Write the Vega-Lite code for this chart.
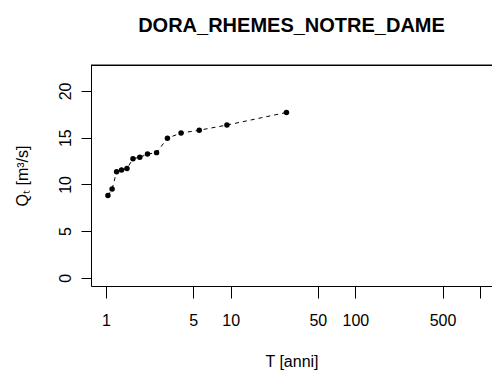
{
  "$schema": "https://vega.github.io/schema/vega-lite/v6.json",
  "width": 401,
  "height": 221,
  "autosize": {"type": "none"},
  "padding": {"left": 91, "top": 65, "right": 0, "bottom": 86},
  "background": "white",
  "config": {
    "view": {"stroke": null},
    "font": "Liberation Sans",
    "axis": {"grid": false, "domainColor": "black", "tickColor": "black", "labelColor": "black", "titleColor": "black", "labelFont": "Liberation Sans", "titleFont": "Liberation Sans", "labelFontSize": 16, "titleFontSize": 16, "titleFontWeight": "normal", "domainWidth": 1, "tickWidth": 1}
  },
  "title": {"text": "DORA_RHEMES_NOTRE_DAME", "fontSize": 20, "fontWeight": "bold", "font": "Liberation Sans", "color": "black", "anchor": "middle", "offset": 9, "baseline": "bottom"},
  "data": {"values": [
    {"T": 1.037, "Q": 8.8},
    {"T": 1.12, "Q": 9.5},
    {"T": 1.217, "Q": 11.35},
    {"T": 1.333, "Q": 11.55},
    {"T": 1.474, "Q": 11.7},
    {"T": 1.647, "Q": 12.75},
    {"T": 1.867, "Q": 12.9},
    {"T": 2.154, "Q": 13.25},
    {"T": 2.545, "Q": 13.4},
    {"T": 3.111, "Q": 14.95},
    {"T": 4.0, "Q": 15.5},
    {"T": 5.6, "Q": 15.8},
    {"T": 9.333, "Q": 16.35},
    {"T": 28.0, "Q": 17.7}
  ]},
  "layer": [
    {
      "mark": {"type": "line", "color": "black", "strokeWidth": 1, "strokeDash": [4, 4]},
      "encoding": {
        "x": {"field": "T", "type": "quantitative", "scale": {"type": "log", "domain": [0.7586, 1246], "nice": false, "zero": false},
          "axis": {"title": "T [anni]", "values": [1, 5, 10, 50, 100, 500, 1000], "labelExpr": "datum.value >= 1000 ? '' : format(datum.value, 'd')", "tickSize": 12, "labelPadding": 14, "labelOverlap": false, "labelFlush": false, "labelBound": false, "labelBaseline": "top", "titlePadding": 25}},
        "y": {"field": "Q", "type": "quantitative", "scale": {"domain": [-0.876, 22.78], "nice": false, "zero": false},
          "axis": {"title": "Qₜ [m³/s]", "values": [0, 5, 10, 15, 20], "tickSize": 10, "labelAngle": -90, "labelAlign": "center", "labelBaseline": "alphabetic", "labelPadding": 11, "labelOverlap": false, "labelFlush": false, "labelBound": false, "titlePadding": 27}}
      }
    },
    {
      "mark": {"type": "point", "filled": true, "color": "black", "opacity": 1, "size": 30},
      "encoding": {
        "x": {"field": "T", "type": "quantitative"},
        "y": {"field": "Q", "type": "quantitative"}
      }
    },
    {
      "mark": {"type": "rule", "color": "black", "strokeWidth": 1},
      "encoding": {"y": {"datum": 22.73, "type": "quantitative"}}
    }
  ]
}
